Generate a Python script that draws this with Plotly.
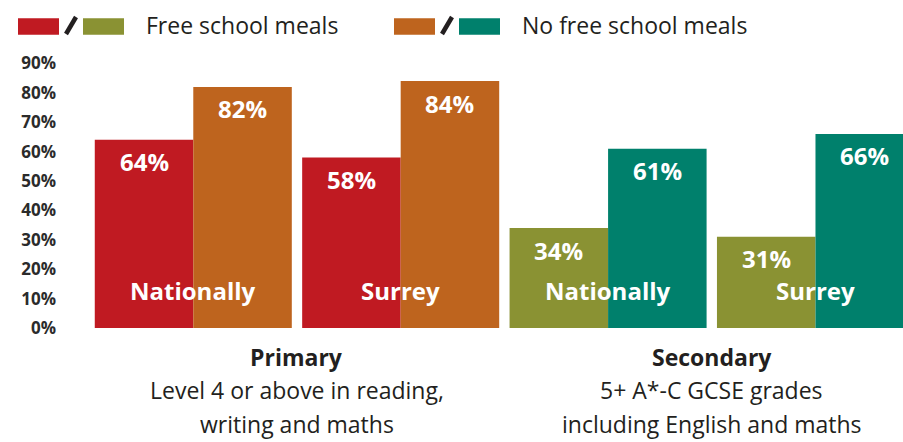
import plotly.graph_objects as go

# ---------------- data ----------------
phases = ["Primary", "Primary", "Secondary", "Secondary"]
areas = ["Nationally", "Surrey", "Nationally", "Surrey"]
fsm = [64, 58, 34, 31]          # Free school meals
no_fsm = [82, 84, 61, 66]       # No free school meals
fsm_colors = ["#C01A22", "#C01A22", "#8A9233", "#8A9233"]
no_fsm_colors = ["#BE641E", "#BE641E", "#00806C", "#00806C"]
tick_vals = [0, 10, 20, 30, 40, 50, 60, 70, 80, 90]
tick_text = [f"{v}%" for v in tick_vals]
legend_labels = ["Free school meals", "No free school meals"]
group_titles = ["Primary", "Secondary"]
group_subtitles = [
    ["Level 4 or above in reading,", "writing and maths"],
    ["5+ A*-C GCSE grades", "including English and maths"],
]

# ---------------- layout constants ----------------
W, H = 903, 442
ML, MR, MT, MB = 90, 0, 60, 114
PW, PH = W - ML - MR, H - MT - MB
BW = 0.475
FONT = "Open Sans"
DARK = "#231F20"


def px_x(p):
    return (p - ML) / PW


def px_y(p):
    return (H - MB - p) / PH


xpos = list(range(len(areas)))

fig = go.Figure()
fig.add_bar(x=xpos, y=fsm, width=BW, offset=-BW, name=legend_labels[0],
            marker=dict(color=fsm_colors, line=dict(width=0)), showlegend=False,
            hoverinfo="skip")
fig.add_bar(x=xpos, y=no_fsm, width=BW, offset=0, name=legend_labels[1],
            marker=dict(color=no_fsm_colors, line=dict(width=0)), showlegend=False,
            hoverinfo="skip")

annotations = []
# value labels inside the top of the bars
for i, (a, b) in enumerate(zip(fsm, no_fsm)):
    for xv, v in ((i - BW / 2, a), (i + BW / 2, b)):
        annotations.append(dict(x=xv, y=v, xref="x", yref="y", text=f"{v}%",
                                showarrow=False, yanchor="middle", yshift=-22,
                                font=dict(family=FONT, size=24, color="white", weight="bold")))
    annotations.append(dict(x=i, y=0, xref="x", yref="y", text=areas[i],
                            showarrow=False, yanchor="middle", yshift=38,
                            font=dict(family=FONT, size=24, color="white", weight="bold")))

# group titles below the axis
for g, title in enumerate(group_titles):
    xc = 2 * g + 0.5
    annotations.append(dict(x=xc, y=0, xref="x", yref="paper", text=title,
                            showarrow=False, yanchor="middle", yshift=-29,
                            font=dict(family=FONT, size=23, color=DARK, weight="bold")))
    for k, line in enumerate(group_subtitles[g]):
        annotations.append(dict(x=xc, y=0, xref="x", yref="paper", text=line,
                                showarrow=False, yanchor="middle", yshift=-62 - 34 * k,
                                font=dict(family=FONT, size=23, color=DARK)))

# custom legend
shapes = []
legend_items = [
    (legend_labels[0], fsm_colors[0], fsm_colors[2], 18, 144),
    (legend_labels[1], no_fsm_colors[0], no_fsm_colors[2], 394, 520),
]
for label, c1, c2, x0, tx in legend_items:
    shapes.append(dict(type="rect", xref="paper", yref="paper",
                       x0=px_x(x0), x1=px_x(x0 + 41), y0=px_y(34.7), y1=px_y(18.3),
                       fillcolor=c1, line=dict(width=0)))
    shapes.append(dict(type="line", xref="paper", yref="paper",
                       x0=px_x(x0 + 48), x1=px_x(x0 + 58), y0=px_y(34), y1=px_y(17),
                       line=dict(color=DARK, width=4.5)))
    shapes.append(dict(type="rect", xref="paper", yref="paper",
                       x0=px_x(x0 + 65), x1=px_x(x0 + 106), y0=px_y(34.7), y1=px_y(18.3),
                       fillcolor=c2, line=dict(width=0)))
    annotations.append(dict(x=px_x(tx), y=px_y(25), xref="paper", yref="paper",
                            text=label, showarrow=False, xanchor="left", yanchor="middle",
                            font=dict(family=FONT, size=23, color=DARK)))

fig.update_layout(
    width=W, height=H,
    margin=dict(l=ML, r=MR, t=MT, b=MB),
    paper_bgcolor="white", plot_bgcolor="white",
    barmode="overlay",
    showlegend=False,
    font=dict(family=FONT, color=DARK),
    xaxis=dict(range=[-0.498, 3.422], showticklabels=False, showgrid=False,
               zeroline=False, showline=False, ticks=""),
    yaxis=dict(range=[0, PH / 2.94], tickvals=tick_vals, ticktext=tick_text,
               showgrid=False, zeroline=False, showline=False, ticks="",
               ticklabelstandoff=33,
               tickfont=dict(family=FONT, size=17, color="#2B2B2B", weight="bold")),
    annotations=annotations,
    shapes=shapes,
)

fig.write_html("out.html")
